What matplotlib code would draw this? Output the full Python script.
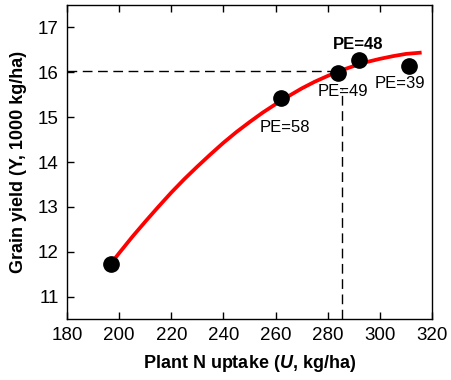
import matplotlib
matplotlib.use("Agg")
import matplotlib.pyplot as plt

plt.rcParams['font.family'] = ['Liberation Sans', 'DejaVu Sans']
plt.rcParams['mathtext.fontset'] = 'custom'
plt.rcParams['mathtext.it'] = 'Liberation Sans:italic:bold'
plt.rcParams['mathtext.rm'] = 'Liberation Sans:bold'

# Observed points
uptake = [197, 262, 284, 292, 311]
yield_ = [11.72, 15.43, 15.98, 16.27, 16.15]
pe_labels = ["", "PE=58", "PE=49", "PE=48", "PE=39"]
pe_pos = [None, (263.5, 14.78), (286.0, 15.58), (291.5, 16.62), (307.5, 15.74)]
pe_bold = [False, False, False, True, False]

# Fitted curve
curve_u = [197, 200, 205, 210, 215, 220, 225, 230, 235, 240, 245, 250, 255,
           260, 265, 270, 275, 280, 285, 290, 295, 300, 305, 310, 316]
curve_y = [11.75, 11.97, 12.33, 12.67, 13.00, 13.32, 13.62, 13.90, 14.17, 14.43,
           14.67, 14.89, 15.10, 15.29, 15.47, 15.64, 15.79, 15.92, 16.04, 16.14,
           16.23, 16.30, 16.36, 16.41, 16.44]

# Reference dashed lines
opt_u = 285.3
opt_y = 16.04
hline_end = 283.0
vline_top = 15.62

x_ticks = [180, 200, 220, 240, 260, 280, 300, 320]
y_ticks = [11, 12, 13, 14, 15, 16, 17]

fig = plt.figure(figsize=(4.51, 3.80), dpi=100)
ax = fig.add_axes([0.1486, 0.1605, 0.8094, 0.8263])

ax.plot(curve_u, curve_y, color='#ff0000', lw=2.7, solid_capstyle='butt',
        solid_joinstyle='round', zorder=2)
ax.plot(uptake, yield_, 'o', color='black', ms=11, zorder=3)

ax.plot([180, hline_end], [opt_y, opt_y], color='black', lw=1.0, dashes=(7, 4), zorder=1)
ax.plot([opt_u, opt_u], [10.5, vline_top], color='black', lw=1.0, dashes=(7, 4), zorder=1)

for lab, pos, b in zip(pe_labels, pe_pos, pe_bold):
    if lab:
        ax.text(pos[0], pos[1], lab, ha='center', va='center', fontsize=12,
                fontweight='bold' if b else 'normal', color='black')

ax.set_xlim(180, 320)
ax.set_ylim(10.5, 17.5)
ax.set_xticks(x_ticks)
ax.set_yticks(y_ticks)
ax.tick_params(axis='both', direction='in', length=5, width=1, labelsize=13.5, pad=6)
ax.tick_params(axis='x', top=True)
ax.tick_params(axis='y', right=False)
for s in ax.spines.values():
    s.set_linewidth(1.0)

ax.set_xlabel(r'Plant N uptake ($\mathit{U}$, kg/ha)', fontsize=13, fontweight='bold', labelpad=6)
ax.set_ylabel('Grain yield (Y, 1000 kg/ha)', fontsize=13, fontweight='bold', labelpad=8)

fig.savefig('out.png', dpi=100)
